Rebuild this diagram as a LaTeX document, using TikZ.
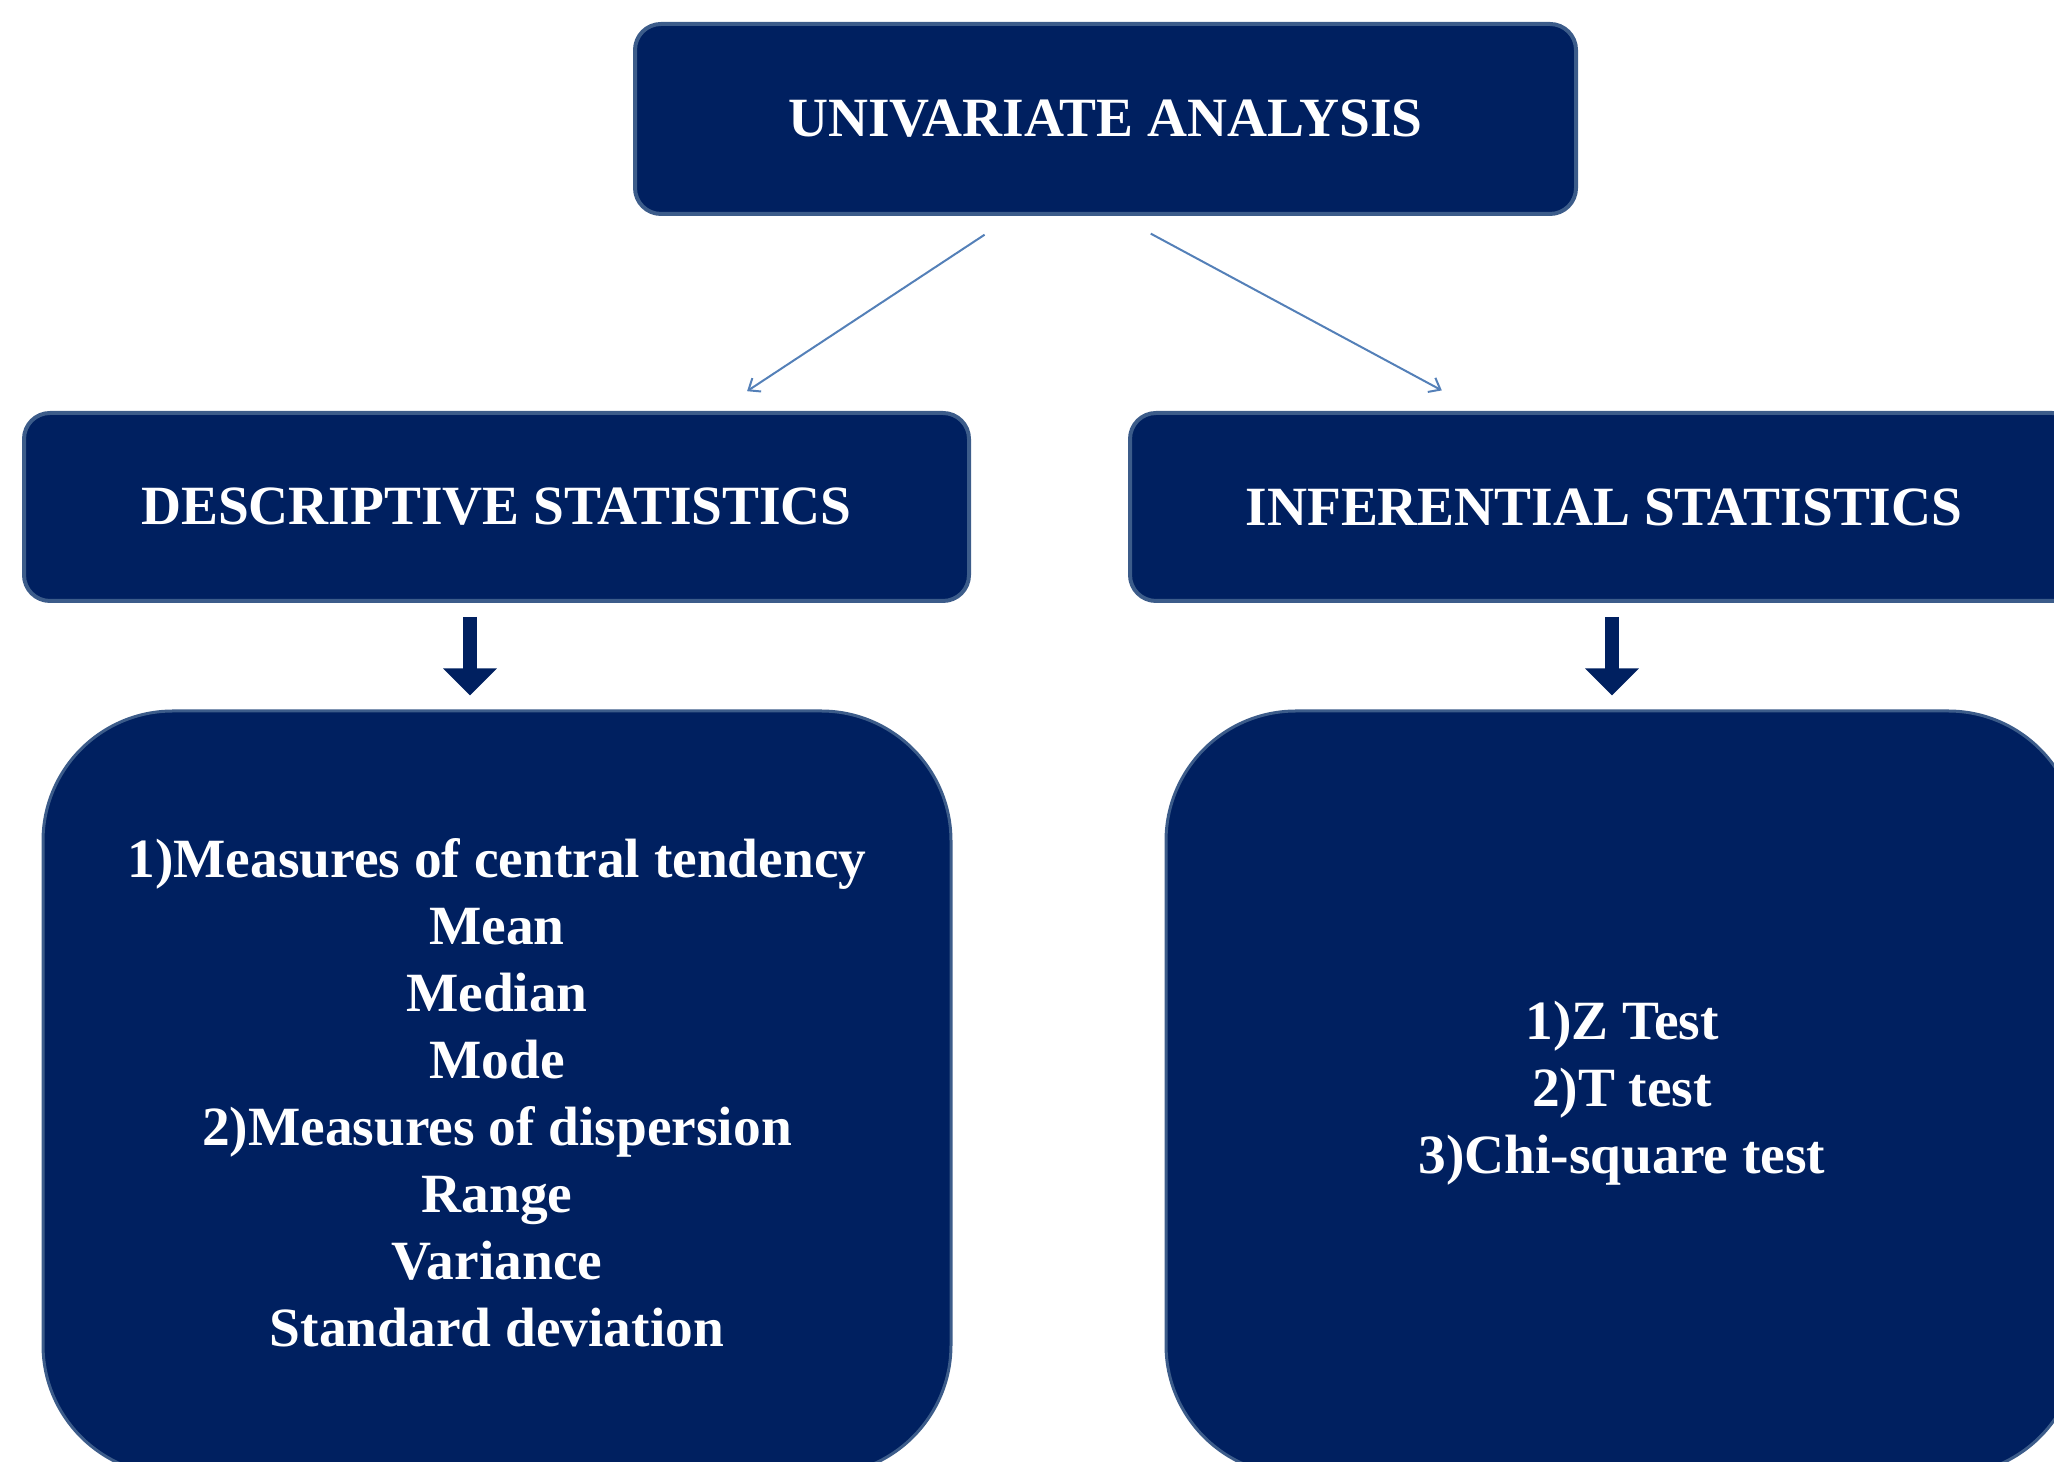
\documentclass[tikz,border=0pt]{standalone}
\usepackage{fontspec}
\setmainfont{Liberation Serif}
\usepackage{tikz}
\usetikzlibrary{arrows.meta,shapes}

\definecolor{navy}{RGB}{0,32,96}
\definecolor{edgeblue}{RGB}{60,92,138}
\definecolor{linkblue}{RGB}{84,128,184}

\begin{document}
\begin{tikzpicture}[>={Straight Barb[length=5bp,width=8bp]},join=bevel,]
\tikzstyle{every node}=[text=white,font=\fontsize{27.8}{33.6}\selectfont\bfseries,align=center]%
\tikzstyle{head}=[draw=edgeblue,line width=2bp,fill=navy,rounded corners=13bp]%
\tikzstyle{body}=[draw=edgeblue,line width=1.5bp,fill=navy,rounded corners=65bp]%
\tikzstyle{link}=[->,draw=linkblue,line width=1bp]%
\tikzstyle{down}=[-{Triangle[length=13.5bp,width=26bp]},draw=navy,line width=7bp,shorten <=7bp,shorten >=7bp]%
  \clip (0bp,0bp) rectangle (1027bp,731bp);
  \useasboundingbox (0bp,0bp) rectangle (1027bp,731bp);

  \node (univ) at (552.75bp,671.5bp) [head,minimum width=470.5bp,minimum height=95bp] {UNIVARIATE ANALYSIS};
  \node (desc) at (248.25bp,477.5bp) [head,minimum width=472.5bp,minimum height=94bp] {DESCRIPTIVE STATISTICS};
  \node (infer) at (802bp,477.5bp) [head,minimum width=474bp,minimum height=94bp] {INFERENTIAL STATISTICS};
  \node (descbody) at (248.5bp,184.5bp) [body,minimum width=454bp,minimum height=382bp] {1)Measures of central tendency\\Mean\\Median\\Mode\\2)Measures of dispersion\\Range\\Variance\\Standard deviation};
  \node (inferbody) at (811bp,184.5bp) [body,minimum width=456bp,minimum height=382bp] {1)Z Test\\2)T test\\3)Chi-square test};

  \draw [link,shorten <=17bp,shorten >=18bp] ([xshift=-46.25bp]univ.south) -- ([xshift=110.25bp]desc.north);
  \draw [link,shorten <=18.6bp,shorten >=21.7bp] ([xshift=6.25bp]univ.south) -- ([xshift=-62bp]infer.north);
  \draw [down] ([xshift=-13.25bp]desc.south) -- ([xshift=-13.25bp]desc.south |- descbody.north);
  \draw [down] ([xshift=4bp]infer.south) -- ([xshift=4bp]infer.south |- inferbody.north);

\end{tikzpicture}
\end{document}
